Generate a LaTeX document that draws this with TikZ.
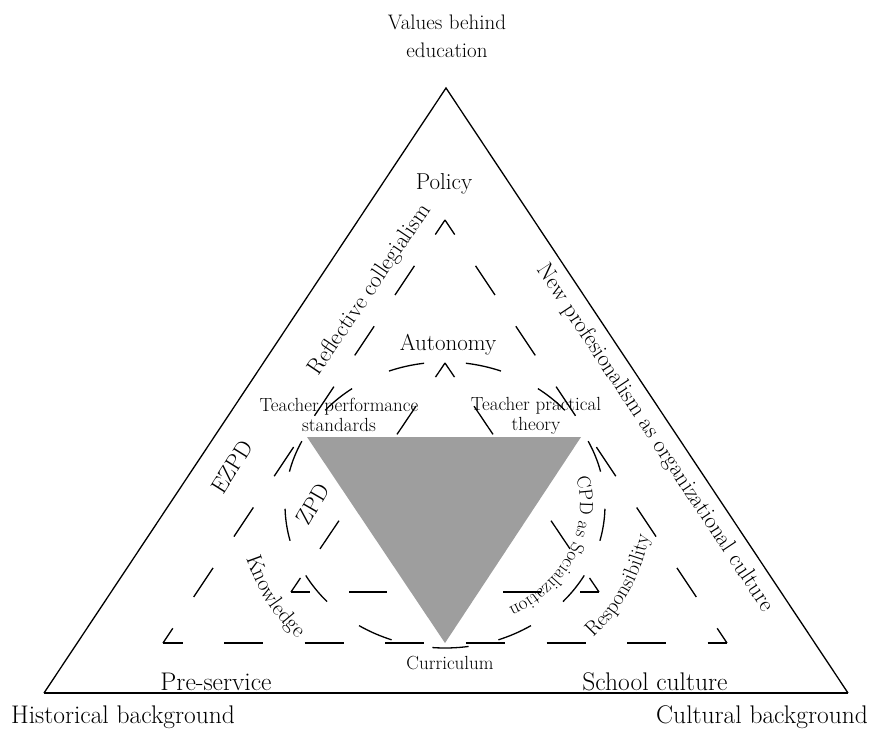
\documentclass[tikz,border=0pt]{standalone}
\usetikzlibrary{decorations.text}
\definecolor{trigrey}{RGB}{158,158,158}
\newcommand{\cpdsize}{\fontsize{19}{19}\selectfont}
\begin{document}
\begin{tikzpicture}[x=1pt,y=-1pt,line width=1.3pt,
  vtxt/.style={inner sep=0pt, align=center, font=\fontsize{21}{28}\selectfont},
  txt/.style={inner sep=0pt, font=\fontsize{23}{27}\selectfont},
  bigtxt/.style={inner sep=0pt, font=\fontsize{25.5}{29}\selectfont},
  smalltxt/.style={inner sep=0pt, align=center, font=\fontsize{19}{20}\selectfont},
  sidedash/.style={dash pattern=on 35pt off 37.6pt, dash phase=17.5pt},
  basedash/.style={dash pattern=on 39pt off 41.6pt, dash phase=19.5pt},
  innerside/.style={dash pattern=on 34pt off 35pt, dash phase=17pt},
  innerbase/.style={dash pattern=on 38pt off 39pt, dash phase=19pt}]
\useasboundingbox (0,0) rectangle (888,742);
\coordinate (o1) at (446,88);
\coordinate (o2) at (44,693);
\coordinate (o3) at (848,693);
\coordinate (m1) at (445,220);
\coordinate (m2) at (163,643);
\coordinate (m3) at (727,643);
\coordinate (i1) at (445,363);
\coordinate (i2) at (291,592);
\coordinate (i3) at (599,592);
\coordinate (ctr) at (445,505);

% outer triangle
\draw (o2) -- (o1) -- (o3);
\draw[line width=2.4pt] (o2) -- (o3);

% dashed triangles
\draw[sidedash] (m1) -- (m2);
\draw[sidedash] (m1) -- (m3);
\draw[basedash] (m2) -- (m3);
\draw[innerside] (i1) -- (i2);
\draw[innerside] (i1) -- (i3);
\draw[innerbase] (i2) -- (i3);

% dashed ring
\foreach \a in {-64,-36,...,272}
  \draw (ctr) ++(\a-6.5:160pt and 143pt) arc[start angle=\a-6.5, end angle=\a+6.5, x radius=160pt, y radius=143pt];

\fill[trigrey] (307,437) -- (581,437) -- (445,643) -- cycle;

\node[vtxt] (vals) at (447,36) {Values behind\\education};
\node[txt] (pol) at (444,184) {Policy};
\node[txt] (aut) at (448,345) {Autonomy};
\node[smalltxt] (tps) at (339,415) {Teacher performance\\standards};
\node[smalltxt] (tpt) at (536,416) {Teacher practical\\theory};
\node[smalltxt] (cur) at (450,663) {Curriculum};
\node[bigtxt] (pre) at (216,682) {Pre-service};
\node[bigtxt] (sch) at (655,682) {School culture};
\node[bigtxt] (his) at (123,717) {Historical background};
\node[bigtxt] (cul) at (762,717) {Cultural background};
\node[txt, rotate=56] (refl) at (370,290) {Reflective collegialism};
\node[txt, rotate=-56.5] (newp) at (655,438) {New profesionalism as organizational culture};
\node[txt, rotate=58] (ezpd) at (232,467) {EZPD};
\node[txt, rotate=60] (zpd) at (313,504) {ZPD};

% curved labels
\path[decorate, decoration={text along path, text align=center,
  text={|\fontsize{22}{22}\selectfont|Knowledge}}]
  (ctr) ++(180:207pt and 190pt) arc[start angle=180, end angle=240, x radius=207pt, y radius=190pt];
\path[decorate, decoration={text along path, text align=center,
  text={|\fontsize{21}{21}\selectfont|Responsibility}}]
  (ctr) ++(-56.5:207pt and 190pt) arc[start angle=-56.5, end angle=3.5, x radius=207pt, y radius=190pt];
\path[decorate, decoration={text along path, text align=center,
  text={|\cpdsize|CPD |\cpdsize|as |\cpdsize|Socialization}}]
  (ctr) ++(25:135pt and 117pt) arc[start angle=25, end angle=-72, x radius=135pt, y radius=117pt];
\end{tikzpicture}
\end{document}
